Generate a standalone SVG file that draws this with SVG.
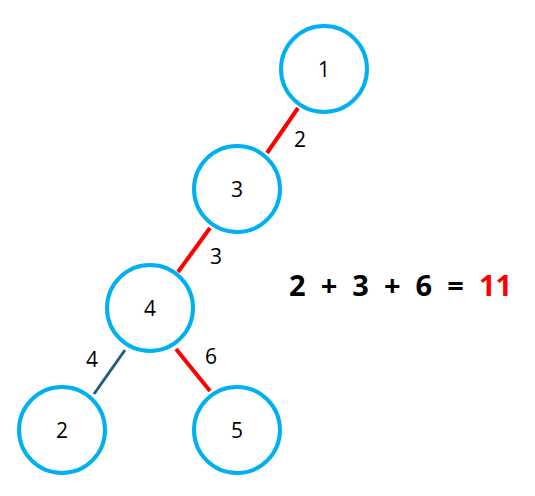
<svg xmlns="http://www.w3.org/2000/svg" width="535" height="496" viewBox="0 0 535 496">
<style>
.node circle{fill:#fff;stroke:#00b0f0;stroke-width:4}
.node text,.lbl{font-family:"Open Sans","Noto Sans",sans-serif;font-size:21px;fill:#000;text-anchor:middle}
.red{stroke:#ff0000;stroke-width:4}
.teal{stroke:#1f5f7f;stroke-width:3}
.sum{font-family:"Open Sans","Noto Sans",sans-serif;font-size:29px;font-weight:bold}
</style>
<rect width="535" height="496" fill="#fff"/>
<g id="connectors">
<line class="red" x1="298" y1="108" x2="267" y2="153"/>
<line class="red" x1="210" y1="228" x2="178" y2="272"/>
<line class="teal" x1="125" y1="350" x2="94" y2="394"/>
<line class="red" x1="176" y1="349" x2="210" y2="391"/>
<text class="lbl" x="300" y="147">2</text>
<text class="lbl" x="216" y="264">3</text>
<text class="lbl" x="92" y="367">4</text>
<text class="lbl" x="211" y="364">6</text>
</g>
<g id="n1" class="node"><circle cx="324" cy="69" r="43"/><text x="324" y="77">1</text></g>
<g id="n3" class="node"><circle cx="237" cy="189" r="43"/><text x="237" y="197">3</text></g>
<g id="n4" class="node"><circle cx="150" cy="308" r="43"/><text x="150" y="316">4</text></g>
<g id="n2" class="node"><circle cx="62" cy="430" r="43"/><text x="62" y="438">2</text></g>
<g id="n5" class="node"><circle cx="237" cy="430" r="43"/><text x="237" y="438">5</text></g>
<text class="sum" x="289" y="296" xml:space="preserve"><tspan fill="#000">2  +  3  +  6  =  </tspan><tspan fill="#ff0000">11</tspan></text>
</svg>
